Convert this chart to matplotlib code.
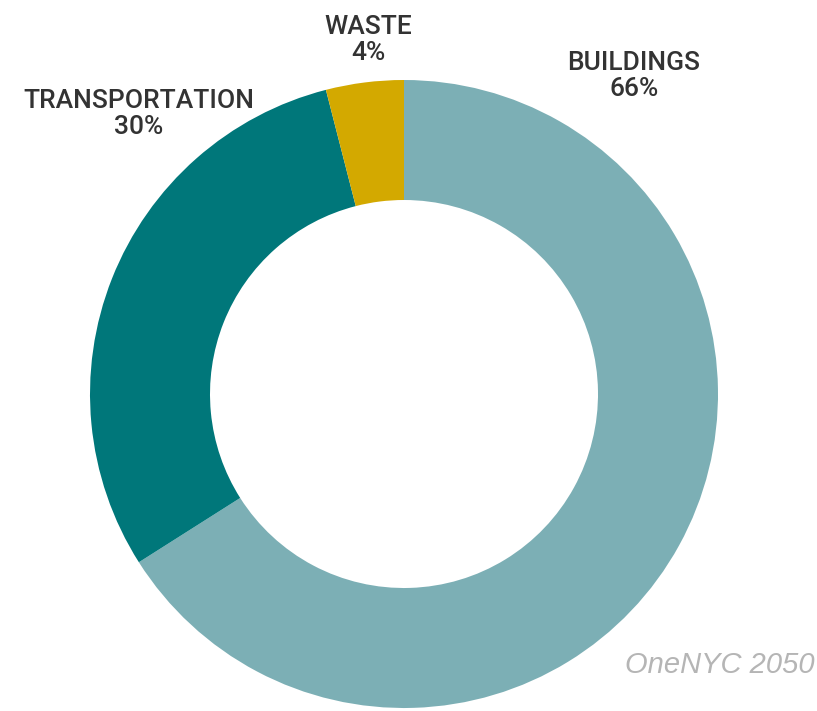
import matplotlib.pyplot as plt

# data
labels = ['BUILDINGS', 'TRANSPORTATION', 'WASTE']
shares = [66, 30, 4]
colors = ['#7cafb5', '#00777a', '#d3a900']

fig = plt.figure(figsize=(8.17, 7.11), dpi=100)
ax = fig.add_axes([0, 0, 1, 1])

# donut, clockwise from 12 o'clock
ax.pie(shares, colors=colors, startangle=90, counterclock=False,
       center=(404, 317), radius=314, frame=True,
       wedgeprops=dict(width=120, edgecolor='none'))
ax.set_xlim(0, 817)
ax.set_ylim(0, 711)
ax.set_aspect('equal')
ax.axis('off')

# labels
label_pos = {'BUILDINGS': (634, 635), 'TRANSPORTATION': (139, 597), 'WASTE': (368, 671)}
for lab, val in zip(labels, shares):
    x, y = label_pos[lab]
    ax.text(x, y, f'{lab}\n{val}%', ha='center', va='center', fontsize=19,
            family='Roboto', fontweight='medium', color='#333333', linespacing=1.15)

ax.text(815, 46, 'OneNYC 2050', ha='right', va='center', fontsize=21,
        style='italic', family='Liberation Sans', color='#b5b5b5')

fig.savefig('out.png', dpi=100)
